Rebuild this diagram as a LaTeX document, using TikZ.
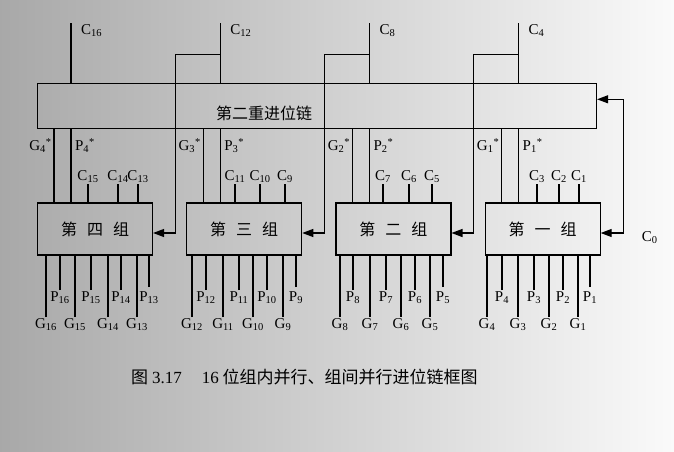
\documentclass[tikz,border=0pt]{standalone}
\usepackage{fontspec}
\setmainfont{Liberation Serif}
\newfontfamily\cjk{Noto Sans CJK SC}
\usetikzlibrary{arrows.meta,positioning,calc}
\newcommand{\sbs}[1]{\textsubscript{#1}}
\tikzset{
  % Group box: CJK group name inside
  grpbox/.style={draw, rectangle, minimum width=115pt, minimum height=52pt,
                 line width=1.2pt, inner sep=0pt, font=\cjk\fontsize{16}{18}\selectfont},
  % Second-level carry chain: long flat box
  chainbox/.style={draw, rectangle, minimum width=559pt, minimum height=45pt, line width=1.2pt},
  % Wires
  wire/.style={line width=1.2pt},
  pinwire/.style={wire, shorten <=3pt},
  arr/.style={wire, -{Triangle[length=11pt,width=8pt]}},
  arrbi/.style={wire, {Triangle[length=11pt,width=8pt]}-{Triangle[length=11pt,width=8pt]}},
  % Signal names and CJK text
  sig/.style={font=\fontsize{15}{17}\selectfont, inner sep=1pt},
  cjktxt/.style={font=\cjk\fontsize{16}{18}\selectfont, inner sep=1pt}
}

\begin{document}
\begin{tikzpicture}[x=1pt, y=-1pt]

% ============== BACKGROUND (scanned page tint) ==============
\shade[left color=gray!68, middle color=gray!28, right color=gray!4] (0,0) rectangle (674,452);
\useasboundingbox (0,0) rectangle (674,452);

% ============== GROUPS ==============
\node[grpbox] (grpfour) at (95,229) {第\hspace{10pt}四\hspace{10pt}组};
\node[grpbox, right=33pt of grpfour] (grpthree) {第\hspace{10pt}三\hspace{10pt}组};
\node[grpbox, right=33pt of grpthree] (grptwo) {第\hspace{10pt}二\hspace{10pt}组};
\node[grpbox, right=33pt of grptwo] (grpone) {第\hspace{10pt}一\hspace{10pt}组};

% ============== SECOND-LEVEL CARRY CHAIN ==============
\node[chainbox, anchor=south west] (chain) at ($(grpfour.north west)+(0,-73)$) {};
\node[cjktxt] (chainlbl) at ($(chain.center)+(-53,7)$) {第二重进位链};

% G*, P* from each group up into the chain
\coordinate (gs4) at ($(grpfour.north west)+(17,0)$);
\coordinate (ps4) at ($(grpfour.north west)+(34,0)$);
\coordinate (gs3) at ($(grpthree.north west)+(17,0)$);
\coordinate (ps3) at ($(grpthree.north west)+(34,0)$);
\coordinate (gs2) at ($(grptwo.north west)+(17,0)$);
\coordinate (ps2) at ($(grptwo.north west)+(34,0)$);
\coordinate (gs1) at ($(grpone.north west)+(17,0)$);
\coordinate (ps1) at ($(grpone.north west)+(34,0)$);
\draw[wire] (gs4) -- (gs4 |- chain.south) (ps4) -- (ps4 |- chain.south)
            (gs3) -- (gs3 |- chain.south) (ps3) -- (ps3 |- chain.south)
            (gs2) -- (gs2 |- chain.south) (ps2) -- (ps2 |- chain.south)
            (gs1) -- (gs1 |- chain.south) (ps1) -- (ps1 |- chain.south);

\node[sig, anchor=base east] (gst4) at ($(gs4)+(-1,-52)$) {G\sbs{4}\textsuperscript{*}};
\node[sig, anchor=base west] (pst4) at ($(ps4)+(3,-52)$) {P\sbs{4}\textsuperscript{*}};
\node[sig, anchor=base east] (gst3) at ($(gs3)+(-1,-52)$) {G\sbs{3}\textsuperscript{*}};
\node[sig, anchor=base west] (pst3) at ($(ps3)+(3,-52)$) {P\sbs{3}\textsuperscript{*}};
\node[sig, anchor=base east] (gst2) at ($(gs2)+(-1,-52)$) {G\sbs{2}\textsuperscript{*}};
\node[sig, anchor=base west] (pst2) at ($(ps2)+(3,-52)$) {P\sbs{2}\textsuperscript{*}};
\node[sig, anchor=base east] (gst1) at ($(gs1)+(-1,-52)$) {G\sbs{1}\textsuperscript{*}};
\node[sig, anchor=base west] (pst1) at ($(ps1)+(3,-52)$) {P\sbs{1}\textsuperscript{*}};

% ============== CHAIN OUTPUTS C16, C12, C8, C4 ==============
\node[sig, anchor=north west] (ctop16) at ($(ps4)+(9,-179)$) {C\sbs{16}};
\node[sig, anchor=north west] (ctop12) at ($(ps3)+(9,-179)$) {C\sbs{12}};
\node[sig, anchor=north west] (ctop8) at ($(ps2)+(9,-179)$) {C\sbs{8}};
\node[sig, anchor=north west] (ctop4) at ($(ps1)+(9,-179)$) {C\sbs{4}};
\draw[wire] (ps4 |- chain.north) -- (ps4 |- ctop16.north)
            (ps3 |- chain.north) -- (ps3 |- ctop12.north)
            (ps2 |- chain.north) -- (ps2 |- ctop8.north)
            (ps1 |- chain.north) -- (ps1 |- ctop4.north);

% carry back into the next group on the left
\coordinate (lp3) at ($(grpthree.north west)+(-11,-148)$);
\coordinate (lp2) at ($(grptwo.north west)+(-11,-148)$);
\coordinate (lp1) at ($(grpone.north west)+(-11,-148)$);
\draw[arr] (ps3 |- lp3) -- (lp3) |- ([yshift=-4pt]grpfour.east);
\draw[arr] (ps2 |- lp2) -- (lp2) |- ([yshift=-4pt]grpthree.east);
\draw[arr] (ps1 |- lp1) -- (lp1) |- ([yshift=-4pt]grptwo.east);

% C0 into group one and the chain
\coordinate (cz) at ($(grpone.east)+(23,4)$);
\draw[arrbi] ([yshift=-4pt]grpone.east) -- (cz) |- ([yshift=7pt]chain.east);
\node[sig] (czero) at ($(cz)+(26,5)$) {C\sbs{0}};

% ============== CARRIES INTO EACH GROUP ==============
\node[sig, anchor=south] (c15) at (88,184) {C\sbs{15}};
\node[sig, anchor=south] (c14) at (118,184) {C\sbs{14}};
\node[sig, anchor=south] (c13) at (138,184) {C\sbs{13}};
\node[sig, anchor=south] (c11) at (235,184) {C\sbs{11}};
\node[sig, anchor=south] (c10) at (260,184) {C\sbs{10}};
\node[sig, anchor=south] (c9) at (285,184) {C\sbs{9}};
\node[sig, anchor=south] (c7) at (383,184) {C\sbs{7}};
\node[sig, anchor=south] (c6) at (409,184) {C\sbs{6}};
\node[sig, anchor=south] (c5) at (432,184) {C\sbs{5}};
\node[sig, anchor=south] (c3) at (537,184) {C\sbs{3}};
\node[sig, anchor=south] (c2) at (559,184) {C\sbs{2}};
\node[sig, anchor=south] (c1) at (579,184) {C\sbs{1}};
\draw[wire] (c15.south) -- (c15.south |- grpfour.north) (c14.south) -- (c14.south |- grpfour.north)
            (c13.south) -- (c13.south |- grpfour.north) (c11.south) -- (c11.south |- grpthree.north)
            (c10.south) -- (c10.south |- grpthree.north) (c9.south) -- (c9.south |- grpthree.north)
            (c7.south) -- (c7.south |- grptwo.north) (c6.south) -- (c6.south |- grptwo.north)
            (c5.south) -- (c5.south |- grptwo.north) (c3.south) -- (c3.south |- grpone.north)
            (c2.south) -- (c2.south |- grpone.north) (c1.south) -- (c1.south |- grpone.north);

% ============== BIT-LEVEL G, P BELOW THE GROUPS ==============
% group four
\node[sig, anchor=north] (g16) at (46,317) {G\sbs{16}};
\node[sig, anchor=north] (p16) at (60,290) {P\sbs{16}};
\node[sig, anchor=north] (g15) at (75,317) {G\sbs{15}};
\node[sig, anchor=north] (p15) at (91,290) {P\sbs{15}};
\node[sig, anchor=north] (g14) at (108,317) {G\sbs{14}};
\node[sig, anchor=north] (p14) at (121,290) {P\sbs{14}};
\node[sig, anchor=north] (g13) at (137,317) {G\sbs{13}};
\node[sig, anchor=north] (p13) at (149,290) {P\sbs{13}};
% group three
\node[sig, anchor=north] (g12) at (192,317) {G\sbs{12}};
\node[sig, anchor=north] (p12) at (206,290) {P\sbs{12}};
\node[sig, anchor=north] (g11) at (223,317) {G\sbs{11}};
\node[sig, anchor=north] (p11) at (239,290) {P\sbs{11}};
\node[sig, anchor=north] (g10) at (253,317) {G\sbs{10}};
\node[sig, anchor=north] (p10) at (267,290) {P\sbs{10}};
\node[sig, anchor=north] (g9) at (283,317) {G\sbs{9}};
\node[sig, anchor=north] (p9) at (296,290) {P\sbs{9}};
% group two
\node[sig, anchor=north] (g8) at (340,317) {G\sbs{8}};
\node[sig, anchor=north] (p8) at (353,290) {P\sbs{8}};
\node[sig, anchor=north] (g7) at (370,317) {G\sbs{7}};
\node[sig, anchor=north] (p7) at (386,290) {P\sbs{7}};
\node[sig, anchor=north] (g6) at (401,317) {G\sbs{6}};
\node[sig, anchor=north] (p6) at (415,290) {P\sbs{6}};
\node[sig, anchor=north] (g5) at (430,317) {G\sbs{5}};
\node[sig, anchor=north] (p5) at (443,290) {P\sbs{5}};
% group one
\node[sig, anchor=north] (g4) at (487,317) {G\sbs{4}};
\node[sig, anchor=north] (p4) at (502,290) {P\sbs{4}};
\node[sig, anchor=north] (g3) at (518,317) {G\sbs{3}};
\node[sig, anchor=north] (p3) at (534,290) {P\sbs{3}};
\node[sig, anchor=north] (g2) at (549,317) {G\sbs{2}};
\node[sig, anchor=north] (p2) at (563,290) {P\sbs{2}};
\node[sig, anchor=north] (g1) at (578,317) {G\sbs{1}};
\node[sig, anchor=north] (p1) at (590,290) {P\sbs{1}};

\draw[pinwire] (g16.north) -- (g16.north |- grpfour.south) (p16.north) -- (p16.north |- grpfour.south)
               (g15.north) -- (g15.north |- grpfour.south) (p15.north) -- (p15.north |- grpfour.south)
               (g14.north) -- (g14.north |- grpfour.south) (p14.north) -- (p14.north |- grpfour.south)
               (g13.north) -- (g13.north |- grpfour.south) (p13.north) -- (p13.north |- grpfour.south);
\draw[pinwire] (g12.north) -- (g12.north |- grpthree.south) (p12.north) -- (p12.north |- grpthree.south)
               (g11.north) -- (g11.north |- grpthree.south) (p11.north) -- (p11.north |- grpthree.south)
               (g10.north) -- (g10.north |- grpthree.south) (p10.north) -- (p10.north |- grpthree.south)
               (g9.north) -- (g9.north |- grpthree.south) (p9.north) -- (p9.north |- grpthree.south);
\draw[pinwire] (g8.north) -- (g8.north |- grptwo.south) (p8.north) -- (p8.north |- grptwo.south)
               (g7.north) -- (g7.north |- grptwo.south) (p7.north) -- (p7.north |- grptwo.south)
               (g6.north) -- (g6.north |- grptwo.south) (p6.north) -- (p6.north |- grptwo.south)
               (g5.north) -- (g5.north |- grptwo.south) (p5.north) -- (p5.north |- grptwo.south);
\draw[pinwire] (g4.north) -- (g4.north |- grpone.south) (p4.north) -- (p4.north |- grpone.south)
               (g3.north) -- (g3.north |- grpone.south) (p3.north) -- (p3.north |- grpone.south)
               (g2.north) -- (g2.north |- grpone.south) (p2.north) -- (p2.north |- grpone.south)
               (g1.north) -- (g1.north |- grpone.south) (p1.north) -- (p1.north |- grpone.south);

% ============== CAPTION ==============
\node[cjktxt, font=\cjk\fontsize{17}{19}\selectfont, anchor=west] (caption) at (130,377)
  {图 {\rmfamily 3.17}\hspace{20pt}{\rmfamily 16} 位组内并行、组间并行进位链框图};

\end{tikzpicture}
\end{document}
